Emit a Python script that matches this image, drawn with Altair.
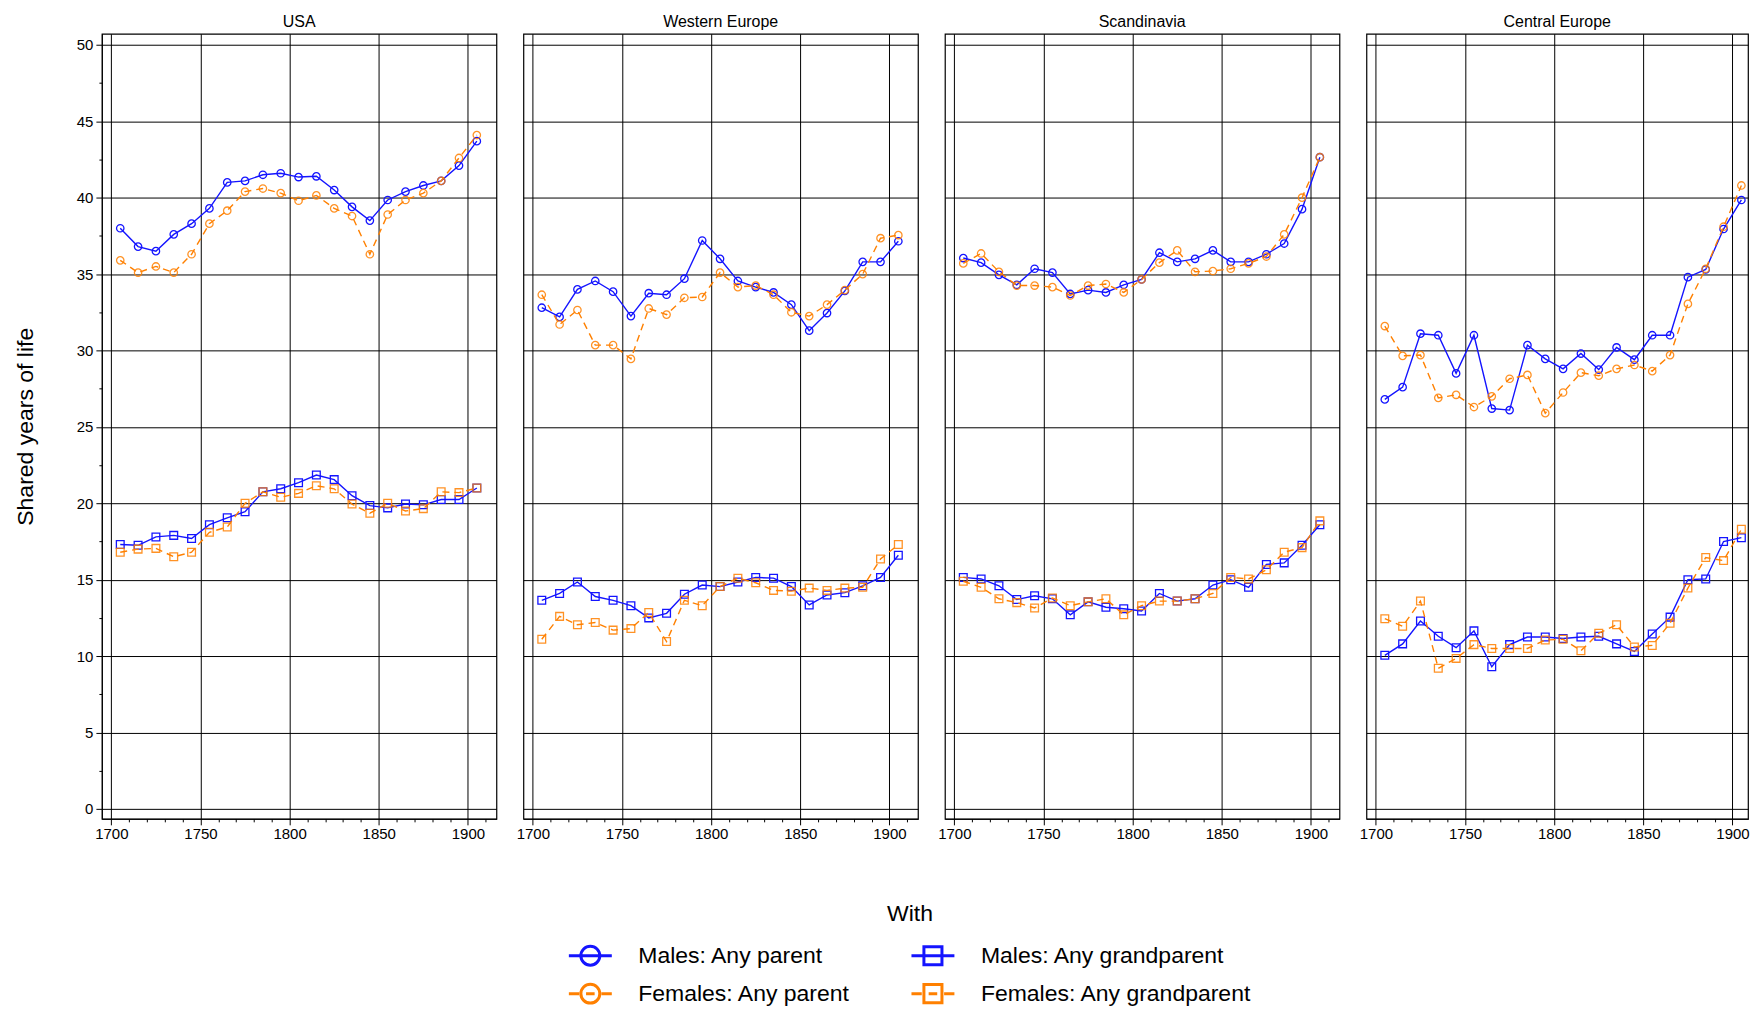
import altair as alt
import pandas as pd

years = [1705, 1715, 1725, 1735, 1745, 1755, 1765, 1775, 1785, 1795, 1805,
         1815, 1825, 1835, 1845, 1855, 1865, 1875, 1885, 1895, 1905]
regions = ["USA", "Western Europe", "Scandinavia", "Central Europe"]
# legend entries fill column by column: parents in column 1, grandparents in column 2
series_order = ["Males: Any parent", "Females: Any parent",
                "Males: Any grandparent", "Females: Any grandparent"]

usa_males_parent = [38.0, 36.8, 36.5, 37.6, 38.3, 39.3, 41.0, 41.1, 41.5, 41.6, 41.35,
                    41.4, 40.5, 39.4, 38.5, 39.85, 40.4, 40.8, 41.1, 42.1, 43.7]
usa_females_parent = [35.9, 35.1, 35.5, 35.1, 36.3, 38.3, 39.15, 40.4, 40.6, 40.3, 39.8,
                      40.15, 39.3, 38.8, 36.3, 38.9, 39.85, 40.3, 41.1, 42.6, 44.1]
usa_males_gp = [17.3, 17.25, 17.8, 17.9, 17.7, 18.6, 19.05, 19.45, 20.75, 20.95, 21.35,
                21.85, 21.55, 20.5, 19.85, 19.7, 19.95, 19.9, 20.25, 20.25, 21.0]
usa_females_gp = [16.8, 17.0, 17.05, 16.5, 16.8, 18.1, 18.45, 20.0, 20.75, 20.4, 20.65,
                  21.15, 20.95, 19.95, 19.35, 20.0, 19.5, 19.65, 20.75, 20.7, 21.0]

we_males_parent = [32.8, 32.2, 34.0, 34.55, 33.85, 32.25, 33.75, 33.65, 34.7, 37.2, 36.0,
                   34.55, 34.15, 33.8, 33.0, 31.3, 32.45, 33.9, 35.8, 35.8, 37.15]
we_females_parent = [33.65, 31.7, 32.65, 30.35, 30.35, 29.45, 32.75, 32.35, 33.45, 33.5, 35.1,
                     34.15, 34.25, 33.65, 32.5, 32.25, 33.0, 33.95, 35.0, 37.35, 37.55]
we_males_gp = [13.65, 14.1, 14.85, 13.9, 13.65, 13.3, 12.5, 12.8, 14.05, 14.65, 14.55,
               14.85, 15.15, 15.1, 14.55, 13.35, 14.0, 14.15, 14.6, 15.15, 16.6]
we_females_gp = [11.1, 12.6, 12.05, 12.2, 11.7, 11.8, 12.85, 10.95, 13.65, 13.3, 14.55,
                 15.1, 14.8, 14.3, 14.25, 14.45, 14.3, 14.45, 14.5, 16.35, 17.3]

sc_males_parent = [36.05, 35.75, 34.95, 34.3, 35.35, 35.1, 33.7, 33.95, 33.8, 34.3, 34.65,
                   36.4, 35.8, 36.0, 36.55, 35.8, 35.8, 36.3, 37.0, 39.25, 42.65]
sc_females_parent = [35.7, 36.35, 35.15, 34.25, 34.25, 34.15, 33.6, 34.25, 34.35, 33.8, 34.65,
                     35.75, 36.55, 35.15, 35.2, 35.35, 35.7, 36.15, 37.6, 40.0, 42.65]
sc_males_gp = [15.15, 15.05, 14.6, 13.7, 13.95, 13.75, 12.7, 13.55, 13.2, 13.1, 12.95,
               14.1, 13.6, 13.75, 14.65, 15.0, 14.5, 16.0, 16.1, 17.25, 18.6]
sc_females_gp = [14.9, 14.5, 13.75, 13.5, 13.15, 13.8, 13.3, 13.55, 13.75, 12.7, 13.3,
                 13.6, 13.6, 13.75, 14.1, 15.15, 15.05, 15.65, 16.8, 17.1, 18.85]

ce_males_parent = [26.8, 27.6, 31.1, 31.0, 28.5, 31.0, 26.2, 26.1, 30.35, 29.45, 28.8,
                   29.8, 28.75, 30.2, 29.4, 31.0, 31.0, 34.8, 35.3, 37.95, 39.85]
ce_females_parent = [31.6, 29.65, 29.7, 26.9, 27.1, 26.3, 27.0, 28.15, 28.4, 25.9, 27.25,
                     28.55, 28.35, 28.8, 29.05, 28.65, 29.7, 33.05, 35.35, 38.1, 40.8]
ce_males_gp = [10.05, 10.8, 12.3, 11.3, 10.55, 11.65, 9.3, 10.75, 11.25, 11.25, 11.15,
               11.25, 11.3, 10.8, 10.3, 11.45, 12.55, 15.0, 15.05, 17.5, 17.75]
ce_females_gp = [12.45, 11.95, 13.6, 9.2, 9.85, 10.75, 10.5, 10.5, 10.5, 11.05, 11.1,
                 10.35, 11.5, 12.05, 10.6, 10.7, 12.15, 14.45, 16.45, 16.25, 18.3]

table = {
    ("USA", "Males: Any parent"): usa_males_parent,
    ("USA", "Females: Any parent"): usa_females_parent,
    ("USA", "Males: Any grandparent"): usa_males_gp,
    ("USA", "Females: Any grandparent"): usa_females_gp,
    ("Western Europe", "Males: Any parent"): we_males_parent,
    ("Western Europe", "Females: Any parent"): we_females_parent,
    ("Western Europe", "Males: Any grandparent"): we_males_gp,
    ("Western Europe", "Females: Any grandparent"): we_females_gp,
    ("Scandinavia", "Males: Any parent"): sc_males_parent,
    ("Scandinavia", "Females: Any parent"): sc_females_parent,
    ("Scandinavia", "Males: Any grandparent"): sc_males_gp,
    ("Scandinavia", "Females: Any grandparent"): sc_females_gp,
    ("Central Europe", "Males: Any parent"): ce_males_parent,
    ("Central Europe", "Females: Any parent"): ce_females_parent,
    ("Central Europe", "Males: Any grandparent"): ce_males_gp,
    ("Central Europe", "Females: Any grandparent"): ce_females_gp,
}

rows = []
for (reg, ser), vals in table.items():
    for yr, v in zip(years, vals):
        rows.append({"region": reg, "series": ser, "year": yr, "value": v})
df = pd.DataFrame(rows)

BLUE = "#1414ff"
ORANGE = "#ff8000"
FONT = "Liberation Sans"

style = {
    "Males: Any parent": (BLUE, None, "circle"),
    "Females: Any parent": (ORANGE, [7, 5], "circle"),
    "Males: Any grandparent": (BLUE, None, "square"),
    "Females: Any grandparent": (ORANGE, [7, 5], "square"),
}

legend_paths = {
    "Males: Any parent": "M-1,0H1M0.44,0A0.44,0.44,0,1,1,-0.44,0A0.44,0.44,0,1,1,0.44,0",
    "Females: Any parent": "M-1,0H-0.52M-0.2,0H0.2M0.52,0H1M0.44,0A0.44,0.44,0,1,1,-0.44,0A0.44,0.44,0,1,1,0.44,0",
    "Males: Any grandparent": "M-1,0H1M-0.42,-0.42H0.42V0.42H-0.42Z",
    "Females: Any grandparent": "M-1,0H-0.52M-0.2,0H0.2M0.52,0H1M-0.42,-0.42H0.42V0.42H-0.42Z",
}

x_ticks = list(range(1700, 1911, 10))
y_ticks = [i * 2.5 for i in range(21)]

X_MIN, X_MAX = 1694.7, 1916.0
PANEL_W, PANEL_H = 395, 786
LAST_W = 382
PX_PER_YEAR = PANEL_W / (X_MAX - X_MIN)

major_x = "datum.value % 50 === 0"
major_y = "datum.value % 5 === 0"

x_axis = alt.Axis(
    values=x_ticks, format="d",
    labelExpr=f"{major_x} ? datum.label : ''",
    tickSize={"condition": {"test": major_x, "value": 6}, "value": 3},
    gridOpacity={"condition": {"test": major_x, "value": 1}, "value": 0},
    grid=True, gridColor="black", gridWidth=1,
    labelFontSize=15, labelFont=FONT, labelColor="black", labelPadding=2,
    labelOverlap=False, labelFlush=False,
    tickColor="black", domainColor="black", title=None,
)
y_axis_first = alt.Axis(
    values=y_ticks,
    labelExpr=f"{major_y} ? datum.label : ''",
    tickSize={"condition": {"test": major_y, "value": 6}, "value": 3},
    gridOpacity={"condition": {"test": major_y, "value": 1}, "value": 0},
    grid=True, gridColor="black", gridWidth=1,
    labelFontSize=15, labelFont=FONT, labelColor="black", labelPadding=3,
    labelOverlap=False, labelFlush=False,
    tickColor="black", domainColor="black",
    title="Shared years of life", titleFontSize=23, titleFont=FONT,
    titleFontWeight="normal", titleColor="black", titlePadding=39,
)
y_axis_other = alt.Axis(
    values=y_ticks, labels=False, ticks=False, domain=False, title=None,
    gridOpacity={"condition": {"test": major_y, "value": 1}, "value": 0},
    grid=True, gridColor="black", gridWidth=1,
)

leg = alt.Legend(
    title="With", orient="none", legendX=466, legendY=870, columns=2,
    titleAnchor="middle", titleFontSize=23, titleFontWeight="normal",
    titleColor="black", titleFont=FONT, titlePadding=17,
    labelFontSize=23, labelColor="black", labelFont=FONT, labelLimit=500,
    symbolSize=1849, symbolStrokeWidth=3, labelOffset=25,
    clipHeight=26, rowPadding=12, columnPadding=59, padding=0,
)


def panel(region, idx):
    width = PANEL_W if idx < 3 else LAST_W
    xmax = X_MIN + width / PX_PER_YEAR
    clip = idx == 3
    x_enc = alt.X("year:Q", scale=alt.Scale(domain=[X_MIN, xmax], nice=False, zero=False),
                  axis=x_axis)
    y_enc = alt.Y("value:Q", scale=alt.Scale(domain=[-0.65, 50.73], nice=False, zero=False),
                  axis=y_axis_first if idx == 0 else y_axis_other)
    layers = []
    for ser in series_order:
        color, dash, shape = style[ser]
        base = alt.Chart().transform_filter(alt.datum.series == ser)
        line_kw = dict(color=color, strokeWidth=1.4, clip=clip)
        if dash:
            line_kw["strokeDash"] = dash
        layers.append(base.mark_line(**line_kw).encode(x=x_enc, y=y_enc))
        layers.append(
            base.mark_point(shape=shape, size=55 if shape == "circle" else 60,
                            filled=False, color=color, strokeWidth=1.3, clip=clip,
                            opacity=1 if color == BLUE else 0.85)
            .encode(x=x_enc, y=y_enc)
        )
    if idx == 0:
        layers.append(
            alt.Chart()
            .transform_filter("false")
            .mark_point(filled=False, opacity=1)
            .encode(
                x=x_enc, y=y_enc,
                color=alt.Color("series:N", scale=alt.Scale(domain=series_order,
                                range=[style[s][0] for s in series_order]), legend=leg),
                shape=alt.Shape("series:N", scale=alt.Scale(domain=series_order,
                                range=[legend_paths[s] for s in series_order]), legend=leg),
            )
        )
    return (
        alt.layer(*layers)
        .transform_filter(alt.datum.region == region)
        .properties(
            width=width, height=PANEL_H,
            title=alt.TitleParams(region, fontSize=16, font=FONT, fontWeight="normal",
                                  color="black", anchor="middle", offset=4.1),
        )
    )


chart = (
    alt.hconcat(*[panel(r, i) for i, r in enumerate(regions)], data=df,
                spacing=27, bounds="flush")
    .properties(padding={"left": 5, "top": 4.2, "right": 0, "bottom": 0})
    .configure(font=FONT)
    .configure_view(stroke="black", strokeWidth=1.2)
)

chart.save("out.html", embed_options={"renderer": "svg", "actions": False})
